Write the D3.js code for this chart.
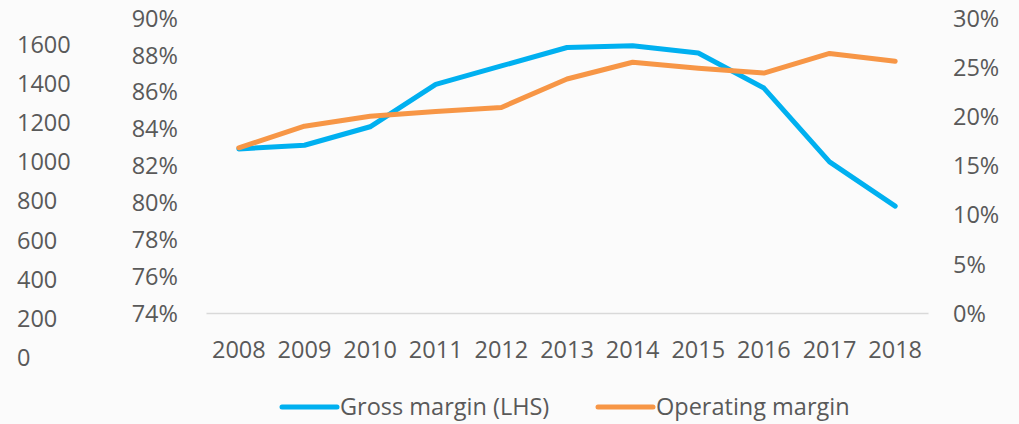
<!DOCTYPE html>
<html>
<head>
<meta charset="utf-8">
<script src="https://cdn.jsdelivr.net/npm/d3@7"></script>
<style>
  html, body { margin: 0; padding: 0; background: #fbfbfb; }
  svg { display: block; }
  text { font-family: "Open Sans", sans-serif; fill: #595959; }
</style>
</head>
<body>
<svg id="chart" width="1019" height="424"></svg>
<script>
const years = ["2008","2009","2010","2011","2012","2013","2014","2015","2016","2017","2018"];
const grossMargin = [82.9, 83.1, 84.1, 86.4, 87.4, 88.4, 88.5, 88.1, 86.2, 82.2, 79.8];
const operatingMargin = [16.8, 19.0, 20.0, 20.5, 20.9, 23.8, 25.5, 24.9, 24.4, 26.4, 25.6];
const leftTicks = [74, 76, 78, 80, 82, 84, 86, 88, 90];
const rightTicks = [0, 5, 10, 15, 20, 25, 30];
const extraTicks = [0, 200, 400, 600, 800, 1000, 1200, 1400, 1600];
const seriesNames = ["Gross margin (LHS)", "Operating margin"];
const colors = ["#00b0f0", "#f79646"];

const svg = d3.select("#chart");
const fs = 23.5;

const x = d3.scaleBand().domain(years).range([206, 928]);
const yL = d3.scaleLinear().domain([74, 90]).range([313, 18]);
const yR = d3.scaleLinear().domain([0, 30]).range([313, 18]);
const yE = d3.scaleLinear().domain([0, 1600]).range([357, 44.5]);

// extra stray axis on the far left
const gE = svg.append("g").attr("transform", "translate(17,0)")
  .call(d3.axisRight(yE).tickValues(extraTicks).tickSize(0).tickPadding(0).tickFormat(d3.format("d")));
gE.select(".domain").remove();
gE.selectAll("text").attr("font-size", fs).attr("dy", "0.35em").attr("x", 0);

// left percent axis
const gL = svg.append("g").attr("transform", "translate(178,0)")
  .call(d3.axisLeft(yL).tickValues(leftTicks).tickSize(0).tickPadding(0).tickFormat(d => d + "%"));
gL.select(".domain").remove();
gL.selectAll("text").attr("font-size", fs).attr("dy", "0.35em");

// right percent axis
const gR = svg.append("g").attr("transform", "translate(953,0)")
  .call(d3.axisRight(yR).tickValues(rightTicks).tickSize(0).tickPadding(0).tickFormat(d => d + "%"));
gR.select(".domain").remove();
gR.selectAll("text").attr("font-size", fs).attr("dy", "0.35em");

// x axis
const gX = svg.append("g").attr("transform", "translate(0,313)")
  .call(d3.axisBottom(x).tickSize(0).tickPadding(0));
gX.select(".domain").attr("stroke", "#d9d9d9").attr("stroke-width", 1.5);
gX.selectAll("text").attr("font-size", fs).attr("y", 45).attr("dy", 0);

const cx = d => x(d) + x.bandwidth() / 2;

const lineL = d3.line().x((d, i) => cx(years[i])).y(d => yL(d));
const lineR = d3.line().x((d, i) => cx(years[i])).y(d => yR(d));

svg.append("path").datum(grossMargin)
  .attr("d", lineL).attr("fill", "none").attr("stroke", colors[0])
  .attr("stroke-width", 5).attr("stroke-linecap", "round").attr("stroke-linejoin", "round");
svg.append("path").datum(operatingMargin)
  .attr("d", lineR).attr("fill", "none").attr("stroke", colors[1])
  .attr("stroke-width", 5).attr("stroke-linecap", "round").attr("stroke-linejoin", "round");

// legend
const legendX = [282, 598];
const leg = svg.append("g");
seriesNames.forEach((name, i) => {
  leg.append("line").attr("x1", legendX[i]).attr("x2", legendX[i] + 55)
    .attr("y1", 407).attr("y2", 407)
    .attr("stroke", colors[i]).attr("stroke-width", 5).attr("stroke-linecap", "round");
  leg.append("text").attr("x", legendX[i] + 58).attr("y", 407).attr("dy", "0.35em")
    .attr("font-size", fs).text(name);
});
</script>
</body>
</html>
